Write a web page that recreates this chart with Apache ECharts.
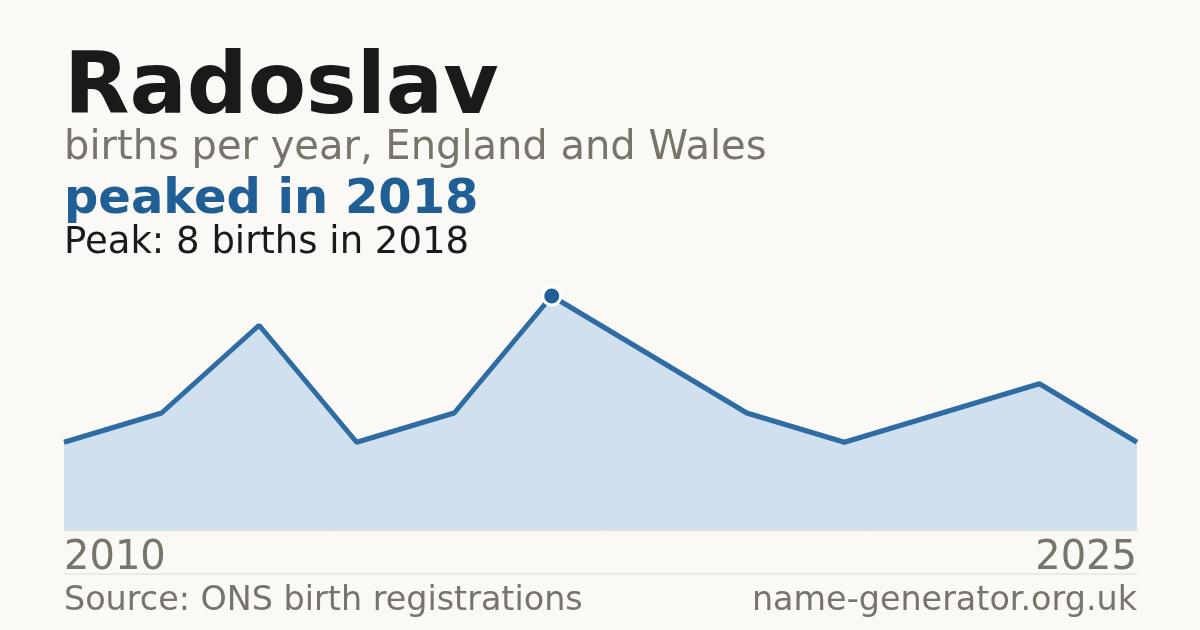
<!DOCTYPE html>
<html>
<head>
<meta charset="utf-8">
<script src="https://cdn.jsdelivr.net/npm/echarts@6/dist/echarts.min.js"></script>
<style>
  html, body { margin: 0; padding: 0; background: #faf9f5; }
  #chart { width: 1200px; height: 630px; }
</style>
</head>
<body>
<div id="chart"></div>
<script>
// data
var years = ['2010', '2011', '2012', '2014', '2016', '2018', '2019', '2020', '2021', '2022', '2024', '2025'];
var births = [3, 4, 7, 3, 4, 8, 6, 4, 3, 4, 5, 3];
var peakIndex = 5;

var font = 'DejaVu Sans';
var grey = '#78736b';
var blue = '#1f5f96';

var myChart = echarts.init(document.getElementById('chart'));

var option = {
    backgroundColor: '#faf9f5',
    animation: false,
    grid: { left: 64, right: 63, top: 296, bottom: 100 },
    xAxis: {
        type: 'category',
        data: years,
        boundaryGap: false,
        axisLine: { show: true, lineStyle: { color: '#e2dfd8', width: 1 } },
        axisTick: { show: false },
        axisLabel: {
            interval: function (i) { return i === 0 || i === years.length - 1; },
            alignMinLabel: 'left',
            alignMaxLabel: 'right',
            color: grey,
            fontFamily: font,
            fontSize: 40,
            margin: 9
        }
    },
    yAxis: {
        type: 'value',
        min: 0,
        max: 8,
        show: false
    },
    series: [
        {
            type: 'line',
            data: births.map(function (v, i) {
                if (i === peakIndex) {
                    return {
                        value: v,
                        symbol: 'circle',
                        symbolSize: 18,
                        itemStyle: { color: blue, borderColor: '#ffffff', borderWidth: 3 }
                    };
                }
                return { value: v, symbol: 'none' };
            }),
            lineStyle: { color: '#2f6ca3', width: 5 },
            areaStyle: { color: '#d0e0ef', opacity: 1 },
            z: 3
        }
    ],
    graphic: [
        { type: 'text', left: 64, top: 48, style: { text: 'Radoslav', fill: '#1a1a1a', font: 'bold 85px "DejaVu Sans"' } },
        { type: 'text', left: 64, top: 129, style: { text: 'births per year, England and Wales', fill: grey, font: '40px "DejaVu Sans"' } },
        { type: 'text', left: 64, top: 177, style: { text: 'peaked in 2018', fill: blue, font: 'bold 48px "DejaVu Sans"' } },
        { type: 'text', left: 64, top: 225, style: { text: 'Peak: 8 births in 2018', fill: '#1a1a1a', font: '37px "DejaVu Sans"' } },
        { type: 'line', shape: { x1: 64, y1: 574, x2: 1137, y2: 574 }, style: { stroke: '#dedbd4', lineWidth: 1 } },
        { type: 'text', left: 64, top: 585, style: { text: 'Source: ONS birth registrations', fill: grey, font: '33.4px "DejaVu Sans"' } },
        { type: 'text', right: 63, top: 585, style: { text: 'name-generator.org.uk', fill: grey, font: '33.4px "DejaVu Sans"' } }
    ]
};

myChart.setOption(option);
</script>
</body>
</html>
